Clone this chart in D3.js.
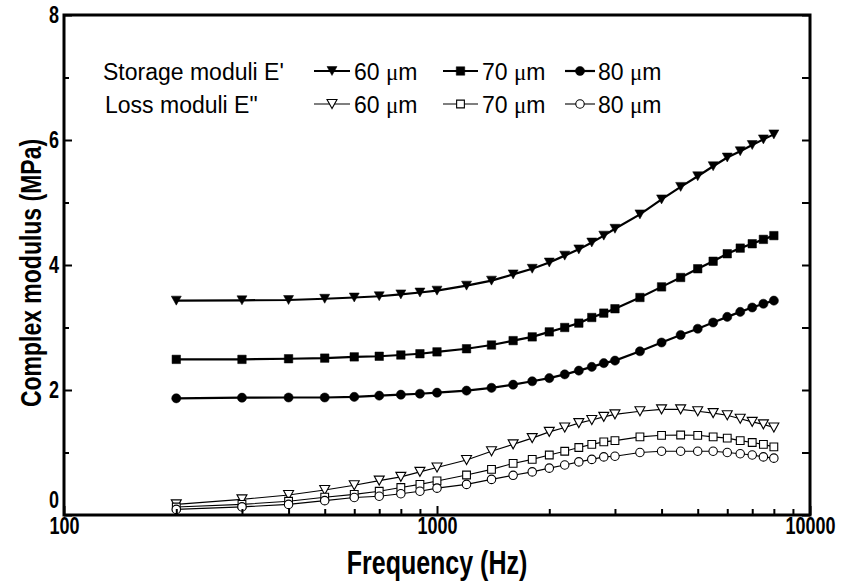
<!DOCTYPE html>
<html>
<head>
<meta charset="utf-8">
<script src="https://cdn.jsdelivr.net/npm/d3@7"></script>
<style>
  html, body { margin: 0; padding: 0; background: #fff; }
  svg { display: block; }
  text { font-family: "Liberation Sans", Arial, sans-serif; fill: #000; }
</style>
</head>
<body>
<svg id="chart" width="842" height="584"></svg>
<script>
// Frequency sweep (Hz)
const frequency = [200, 300, 400, 500, 600, 700, 800, 900, 1000,
  1200, 1400, 1600, 1800, 2000, 2200, 2400, 2600, 2800, 3000,
  3500, 4000, 4500, 5000, 5500, 6000, 6500, 7000, 7500, 8000];

// Storage moduli E' (MPa)
const storage60 = [3.43, 3.435, 3.44, 3.46, 3.48, 3.50, 3.53, 3.56, 3.59,
  3.67, 3.75, 3.85, 3.94, 4.04, 4.15, 4.25, 4.36, 4.47, 4.58,
  4.81, 5.05, 5.25, 5.42, 5.58, 5.72, 5.82, 5.92, 6.01, 6.09];
const storage70 = [2.49, 2.49, 2.50, 2.51, 2.53, 2.54, 2.56, 2.58, 2.61,
  2.66, 2.72, 2.79, 2.85, 2.93, 3.00, 3.07, 3.16, 3.23, 3.30,
  3.48, 3.65, 3.80, 3.94, 4.06, 4.18, 4.27, 4.34, 4.41, 4.47];
const storage80 = [1.867, 1.877, 1.88, 1.88, 1.89, 1.91, 1.925, 1.94, 1.957,
  1.99, 2.035, 2.085, 2.14, 2.19, 2.25, 2.31, 2.37, 2.43, 2.47,
  2.62, 2.76, 2.88, 2.98, 3.08, 3.17, 3.25, 3.32, 3.38, 3.43];

// Loss moduli E" (MPa)
const loss60 = [0.17, 0.25, 0.32, 0.40, 0.475, 0.55, 0.61, 0.69, 0.76,
  0.88, 1.02, 1.13, 1.23, 1.33, 1.40, 1.47, 1.52, 1.57, 1.61,
  1.66, 1.69, 1.69, 1.66, 1.63, 1.595, 1.54, 1.49, 1.45, 1.40];
const loss70 = [0.128, 0.17, 0.22, 0.285, 0.33, 0.38, 0.44, 0.49, 0.545,
  0.64, 0.73, 0.825, 0.89, 0.96, 1.02, 1.08, 1.13, 1.17, 1.19,
  1.25, 1.275, 1.28, 1.275, 1.25, 1.23, 1.19, 1.16, 1.13, 1.09];
const loss80 = [0.09, 0.13, 0.17, 0.23, 0.28, 0.30, 0.34, 0.38, 0.43,
  0.49, 0.57, 0.635, 0.69, 0.75, 0.80, 0.85, 0.89, 0.93, 0.94,
  1.0, 1.02, 1.02, 1.02, 1.02, 1.0, 0.98, 0.96, 0.93, 0.91];

// Axis ticks
const xMajorTicks = [100, 1000, 10000];
const xMinorTicks = [200, 300, 400, 500, 600, 700, 800, 900,
  2000, 3000, 4000, 5000, 6000, 7000, 8000, 9000];
const yMajorTicks = [0, 2, 4, 6, 8];
const yMinorTicks = [1, 3, 5, 7];
const yAllTicks = [0, 1, 2, 3, 4, 5, 6, 7, 8];

// Legend labels
const thicknesses = ["60", "70", "80"];
const groupLabels = ["Storage moduli E'", "Loss moduli E\""];

const series = [
  { values: storage60, shape: "tri",    filled: true },
  { values: storage70, shape: "square", filled: true },
  { values: storage80, shape: "circle", filled: true },
  { values: loss60,    shape: "tri",    filled: false },
  { values: loss70,    shape: "square", filled: false },
  { values: loss80,    shape: "circle", filled: false }
];

const svg = d3.select("#chart");
const plotLeft = 64, plotRight = 810, plotTop = 15, plotBottom = 515;
const tall = 1.3; // vertical stretch of the bold axis lettering

const x = d3.scaleLog().domain([100, 10000]).range([plotLeft, plotRight]);
const y = d3.scaleLinear().domain([0, 8]).range([plotBottom, plotTop]);

function markerPath(shape, filled) {
  if (shape === "tri") {
    const w = 10, h = 9;
    return `M0,${h / 2}L${-w / 2},${-h / 2}L${w / 2},${-h / 2}Z`;
  }
  if (shape === "square") return d3.symbol(d3.symbolSquare, filled ? 72 : 60)();
  return d3.symbol(d3.symbolCircle, filled ? 66 : 56)();
}

// Curves and markers
const line = d3.line().x(d => x(d[0])).y(d => y(d[1]));
series.forEach(s => {
  const pts = frequency.map((f, i) => [f, s.values[i]]);
  svg.append("path")
    .attr("d", line(pts))
    .attr("fill", "none")
    .attr("stroke", "#000")
    .attr("stroke-width", s.filled ? 2.2 : 1.1);
  svg.append("g").selectAll("path")
    .data(pts)
    .join("path")
    .attr("transform", d => `translate(${x(d[0])},${y(d[1])})`)
    .attr("d", markerPath(s.shape, s.filled))
    .attr("fill", s.filled ? "#000" : "#fff")
    .attr("stroke", "#000")
    .attr("stroke-width", s.filled ? 0.5 : 1.1);
});

// Axes: inward ticks
function styleAxis(g) {
  g.select(".domain").remove();
  g.selectAll(".tick line").attr("stroke", "#000").attr("stroke-width", 2);
  g.selectAll(".tick text")
    .style("font-family", "'Liberation Sans', Arial, sans-serif")
    .style("font-weight", "bold")
    .style("font-size", "18px")
    .attr("fill", "#000")
    .attr("transform", `scale(1,${tall})`);
}

svg.append("g")
  .attr("transform", `translate(0,${plotBottom})`)
  .call(d3.axisBottom(x).tickValues(xMajorTicks).tickSize(-9).tickPadding(2)
    .tickFormat(d3.format("d")))
  .call(styleAxis);
svg.append("g")
  .attr("transform", `translate(0,${plotBottom})`)
  .call(d3.axisBottom(x).tickValues(xMinorTicks).tickSize(-6).tickFormat(""))
  .call(styleAxis);

const yAxisMajor = svg.append("g")
  .attr("transform", `translate(${plotLeft},0)`)
  .call(d3.axisLeft(y).tickValues(yMajorTicks).tickSize(-8).tickPadding(5)
    .tickFormat(d3.format("d")))
  .call(styleAxis);
// lift the zero so it clears the "100" beneath it
yAxisMajor.selectAll(".tick text").filter(d => d === 0).attr("dy", "-0.3em");
svg.append("g")
  .attr("transform", `translate(${plotLeft},0)`)
  .call(d3.axisLeft(y).tickValues(yMinorTicks).tickSize(-5).tickFormat(""))
  .call(styleAxis);
svg.append("g")
  .attr("transform", `translate(${plotRight},0)`)
  .call(d3.axisRight(y).tickValues(yAllTicks).tickSize(-8).tickFormat(""))
  .call(styleAxis);

// Frame
svg.append("rect")
  .attr("x", plotLeft).attr("y", plotTop)
  .attr("width", plotRight - plotLeft).attr("height", plotBottom - plotTop)
  .attr("fill", "none").attr("stroke", "#000").attr("stroke-width", 3);

// Axis titles
svg.append("text")
  .attr("transform", `translate(${(plotLeft + plotRight) / 2},574) scale(1,${tall})`)
  .attr("text-anchor", "middle")
  .style("font-weight", "bold").style("font-size", "25px")
  .text("Frequency (Hz)");
svg.append("text")
  .attr("transform", `translate(41,273) rotate(-90) scale(1,${tall})`)
  .attr("text-anchor", "middle")
  .style("font-weight", "bold").style("font-size", "23px")
  .text("Complex modulus (MPa)");

// Legend
const legendRows = [
  { label: groupLabels[0], tx: 103, sy: 71, filled: true },
  { label: groupLabels[1], tx: 105, sy: 104, filled: false }
];
const legendCols = [
  { x0: 314, x1: 350, tx: 354, shape: "tri" },
  { x0: 443, x1: 478, tx: 482, shape: "square" },
  { x0: 565, x1: 595, tx: 598, shape: "circle" }
];
const legend = svg.append("g");
legendRows.forEach(r => {
  legend.append("text")
    .attr("x", r.tx).attr("y", r.sy + 9)
    .style("font-size", "23px")
    .text(r.label);
  legendCols.forEach((c, i) => {
    legend.append("line")
      .attr("x1", c.x0).attr("x2", c.x1)
      .attr("y1", r.sy).attr("y2", r.sy)
      .attr("stroke", "#000").attr("stroke-width", r.filled ? 2.2 : 1.1);
    legend.append("path")
      .attr("transform", `translate(${(c.x0 + c.x1) / 2},${r.sy})`)
      .attr("d", markerPath(c.shape, r.filled))
      .attr("fill", r.filled ? "#000" : "#fff")
      .attr("stroke", "#000")
      .attr("stroke-width", r.filled ? 0.5 : 1.1);
    const t = legend.append("text")
      .attr("x", c.tx).attr("y", r.sy + 9)
      .style("font-size", "23px");
    t.append("tspan").text(thicknesses[i] + " ");
    t.append("tspan").style("font-family", "'Liberation Serif', 'Times New Roman', serif").text("μ");
    t.append("tspan").text("m");
  });
});
</script>
</body>
</html>
